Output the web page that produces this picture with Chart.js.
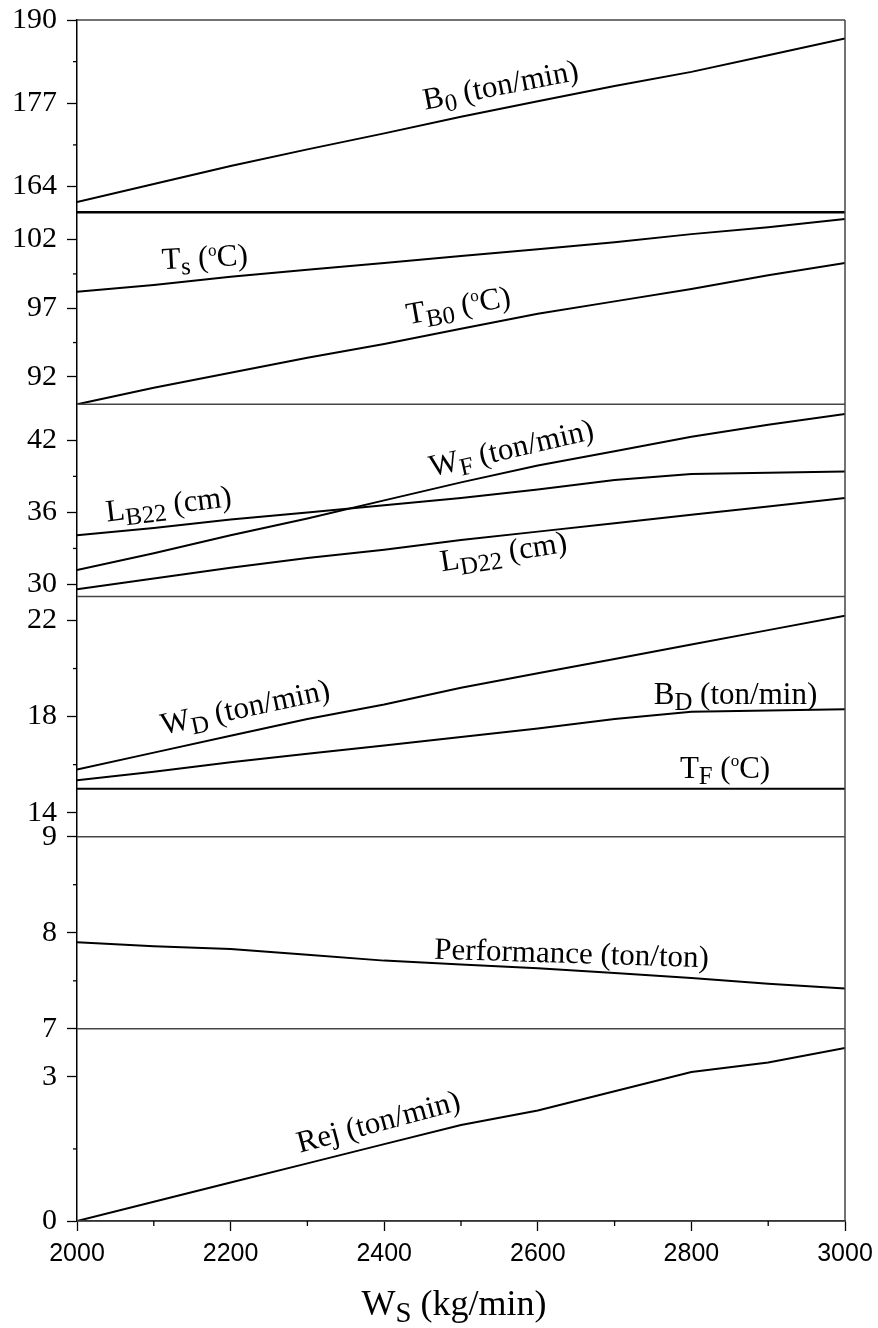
<!DOCTYPE html>
<html>
<head>
<meta charset="utf-8">
<script src="https://cdn.jsdelivr.net/npm/chart.js@4.4.1/dist/chart.umd.min.js"></script>
<style>
  html, body { margin: 0; padding: 0; background: #fff; }
</style>
</head>
<body>
<canvas id="chart" width="878" height="1328"></canvas>
<script>
// W_S (kg/min)
const ws = [2000, 2100, 2200, 2300, 2400, 2500, 2600, 2700, 2800, 2900, 3000];

const b0 = [161.6, 164.4, 167.2, 169.8, 172.3, 174.9, 177.3, 179.7, 181.9, 184.5, 187.1];
const ts = [98.2, 98.7, 99.3, 99.8, 100.3, 100.8, 101.3, 101.8, 102.4, 102.9, 103.5];
const tb0 = [90.0, 91.2, 92.3, 93.4, 94.4, 95.5, 96.6, 97.5, 98.4, 99.4, 100.3];
const lb22 = [34.1, 34.7, 35.4, 36.0, 36.6, 37.2, 37.9, 38.7, 39.2, 39.3, 39.4];
const wf = [31.2, 32.6, 34.1, 35.5, 37.0, 38.5, 39.9, 41.1, 42.3, 43.3, 44.2];
const ld22 = [29.6, 30.5, 31.4, 32.2, 32.9, 33.7, 34.4, 35.1, 35.8, 36.5, 37.2];
const wd = [15.8, 16.5, 17.2, 17.9, 18.5, 19.2, 19.8, 20.4, 21.0, 21.6, 22.2];
const bd = [15.35, 15.7, 16.1, 16.45, 16.8, 17.15, 17.5, 17.9, 18.2, 18.25, 18.3];
const tf = [15, 15, 15, 15, 15, 15, 15, 15, 15, 15, 15];
const perf = [7.90, 7.86, 7.83, 7.77, 7.71, 7.67, 7.63, 7.58, 7.53, 7.47, 7.42];
const rej = [0, 0.4, 0.8, 1.2, 1.6, 2.0, 2.3, 2.7, 3.1, 3.3, 3.6];

// x ticks
const xMajor = [2000, 2200, 2400, 2600, 2800, 3000];
const xMinor = [2100, 2300, 2500, 2700, 2900];

// panels, top to bottom
const panels = [
  { id: "y1", min: 160, max: 190, weight: 1, major: [164, 177, 190], minor: [170.5, 183.5] },
  { id: "y2", min: 90, max: 104, weight: 1, major: [92, 97, 102], minor: [94.5, 99.5] },
  { id: "y3", min: 29, max: 45, weight: 1, major: [30, 36, 42], minor: [33, 39] },
  { id: "y4", min: 13, max: 23, weight: 1.25, major: [14, 18, 22], minor: [16, 20] },
  { id: "y5", min: 7, max: 9, weight: 1, major: [7, 8, 9], minor: [7.5, 8.5] },
  { id: "y6", min: 0, max: 4, weight: 1, major: [0, 3], minor: [1.5] },
];

// curve labels: [text, kind] parts, position in data units, angle in degrees
const curveLabels = [
  { axis: "y1", x: 2453, y: 176.0, angle: -11, parts: [["B", "n"], ["0", "sub"], [" (ton/min)", "n"]] },
  { axis: "y2", x: 2111, y: 99.84, angle: -3, parts: [["T", "n"], ["s", "sub"], [" (", "n"], ["o", "sup"], ["C)", "n"]] },
  { axis: "y2", x: 2431, y: 95.83, angle: -10, parts: [["T", "n"], ["B0", "sub"], [" (", "n"], ["o", "sup"], ["C)", "n"]] },
  { axis: "y3", x: 2039, y: 35.25, angle: -7, parts: [["L", "n"], ["B22", "sub"], [" (cm)", "n"]] },
  { axis: "y3", x: 2462, y: 39.0, angle: -13, parts: [["W", "n"], ["F", "sub"], [" (ton/min)", "n"]] },
  { axis: "y3", x: 2475, y: 31.08, angle: -9, parts: [["L", "n"], ["D22", "sub"], [" (cm)", "n"]] },
  { axis: "y4", x: 2112, y: 17.25, angle: -12, parts: [["W", "n"], ["D", "sub"], [" (ton/min)", "n"]] },
  { axis: "y4", x: 2751, y: 18.54, angle: 0, parts: [["B", "n"], ["D", "sub"], [" (ton/min)", "n"]] },
  { axis: "y4", x: 2785, y: 15.46, angle: 0, parts: [["T", "n"], ["F", "sub"], [" (", "n"], ["o", "sup"], ["C)", "n"]] },
  { axis: "y5", x: 2465, y: 7.73, angle: 1.8, parts: [["Performance (ton/ton)", "n"]] },
  { axis: "y6", x: 2290, y: 1.42, angle: -15, parts: [["Rej (ton/min)", "n"]] },
];

const serif = '"Liberation Serif", "Times New Roman", serif';

const drawRich = (ctx, parts, x, y, angle, size) => {
  ctx.save();
  ctx.translate(x, y);
  ctx.rotate((angle * Math.PI) / 180);
  ctx.fillStyle = "#000";
  ctx.textBaseline = "alphabetic";
  ctx.textAlign = "left";
  let cx = 0;
  for (const [text, kind] of parts) {
    let fs = size;
    let dy = 0;
    if (kind === "sub") {
      fs = size * 0.8;
      dy = size * 0.2;
    } else if (kind === "sup") {
      fs = size * 0.55;
      dy = -size * 0.36;
    }
    ctx.font = fs + "px " + serif;
    ctx.fillText(text, cx, dy);
    cx += ctx.measureText(text).width;
  }
  ctx.restore();
};

const series = [
  [b0, "y1"], [ts, "y2"], [tb0, "y2"],
  [lb22, "y3"], [wf, "y3"], [ld22, "y3"],
  [wd, "y4"], [bd, "y4"], [tf, "y4"],
  [perf, "y5"], [rej, "y6"],
];

const datasets = series.map(([values, axis]) => ({
  data: ws.map((x, i) => ({ x, y: values[i] })),
  yAxisID: axis,
  borderColor: "#000",
  borderWidth: 2,
  pointRadius: 0,
  tension: 0,
}));

const makeYAxis = (p) => ({
  type: "linear",
  position: "left",
  stack: "panels",
  stackWeight: p.weight,
  min: p.min,
  max: p.max,
  afterBuildTicks: (scale) => {
    scale.ticks = p.major.map((v) => ({ value: v }));
  },
  afterFit: (scale) => {
    scale.width = 77;
    scale.paddingTop = 0;
    scale.paddingBottom = 0;
  },
  ticks: {
    font: { family: serif, size: 30 },
    color: "#000",
    padding: 10,
    autoSkip: false,
    callback: (v) => String(v),
  },
  grid: { drawOnChartArea: false, tickLength: 10, tickColor: "#000", tickWidth: 1.3 },
  border: { color: "#000", width: 1.5 },
});

const scales = {
  x: {
    type: "linear",
    position: "bottom",
    min: 2000,
    max: 3000,
    afterBuildTicks: (scale) => {
      scale.ticks = xMajor.map((v) => ({ value: v }));
    },
    afterFit: (scale) => {
      scale.height = 107;
      scale.paddingLeft = 0;
      scale.paddingRight = 0;
    },
    ticks: {
      font: { family: '"Liberation Sans", Arial, sans-serif', size: 25 },
      color: "#000",
      padding: 8,
      maxRotation: 0,
      autoSkip: false,
      callback: (v) => String(v),
    },
    grid: { drawOnChartArea: false, tickLength: 10, tickColor: "#000", tickWidth: 1.3 },
    border: { color: "#000", width: 1.5 },
  },
};
// left stacks are laid out in reverse order, so register bottom panel first
[...panels].reverse().forEach((p) => {
  scales[p.id] = makeYAxis(p);
});

const decor = {
  id: "decor",
  afterDraw(chart) {
    const ctx = chart.ctx;
    const area = chart.chartArea;
    ctx.save();

    // panel frames
    panels.forEach((p, i) => {
      const s = chart.scales[p.id];
      ctx.strokeStyle = i === 0 ? "#000" : "#444";
      ctx.lineWidth = i === 0 ? 2.5 : 1.5;
      ctx.beginPath();
      ctx.moveTo(area.left, s.bottom);
      ctx.lineTo(area.right, s.bottom);
      ctx.stroke();
      if (i === 0) {
        ctx.strokeStyle = "#444";
        ctx.lineWidth = 1.5;
        ctx.beginPath();
        ctx.moveTo(area.left, s.top);
        ctx.lineTo(area.right, s.top);
        ctx.stroke();
      }
    });
    ctx.strokeStyle = "#444";
    ctx.lineWidth = 1.5;
    ctx.beginPath();
    ctx.moveTo(area.right, area.top);
    ctx.lineTo(area.right, area.bottom);
    ctx.stroke();

    // minor ticks
    ctx.strokeStyle = "#000";
    ctx.lineWidth = 1.3;
    panels.forEach((p) => {
      const s = chart.scales[p.id];
      p.minor.forEach((v) => {
        const y = s.getPixelForValue(v);
        ctx.beginPath();
        ctx.moveTo(area.left - 4, y);
        ctx.lineTo(area.left, y);
        ctx.stroke();
      });
    });
    const sx = chart.scales.x;
    xMinor.forEach((v) => {
      const x = sx.getPixelForValue(v);
      ctx.beginPath();
      ctx.moveTo(x, area.bottom);
      ctx.lineTo(x, area.bottom + 5);
      ctx.stroke();
    });

    // curve labels
    curveLabels.forEach((l) => {
      const px = sx.getPixelForValue(l.x);
      const py = chart.scales[l.axis].getPixelForValue(l.y);
      drawRich(ctx, l.parts, px, py, l.angle, 31);
    });

    // x axis title
    const title = [["W", "n"], ["S", "sub"], [" (kg/min)", "n"]];
    let w = 0;
    title.forEach(([t, k]) => {
      ctx.font = (k === "sub" ? 36 * 0.8 : 36) + "px " + serif;
      w += ctx.measureText(t).width;
    });
    drawRich(ctx, title, 454 - w / 2, 1315, 0, 36);

    ctx.restore();
  },
};

new Chart(document.getElementById("chart"), {
  type: "line",
  data: { datasets },
  options: {
    responsive: false,
    animation: false,
    layout: { padding: { top: 20, right: 33, left: 0, bottom: 0 } },
    plugins: { legend: { display: false }, tooltip: { enabled: false } },
    scales,
  },
  plugins: [decor],
});
</script>
</body>
</html>
